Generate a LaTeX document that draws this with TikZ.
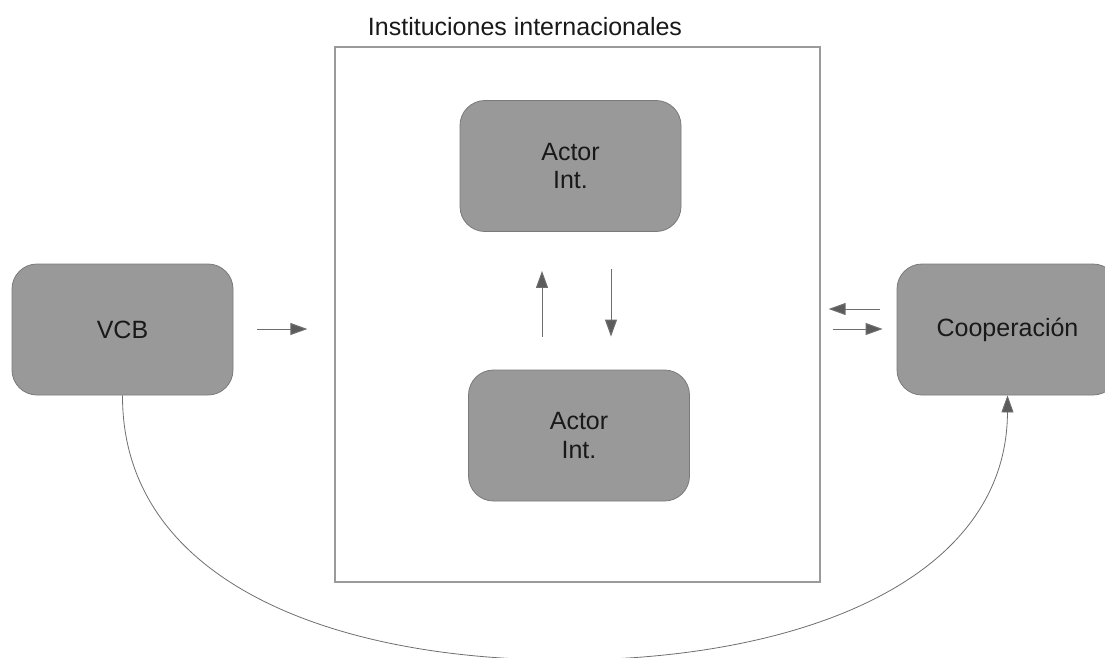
\documentclass[tikz,border=0pt]{standalone}
\usepackage{fontspec}
\setmainfont{Liberation Sans}
\usetikzlibrary{arrows.meta}
\definecolor{boxfill}{HTML}{999999}
\definecolor{boxline}{HTML}{7A7A7A}
\definecolor{frameline}{HTML}{9A9A9A}
\definecolor{arrline}{HTML}{6E6E6E}
\definecolor{arrhead}{HTML}{5C5C5C}
\tikzset{
  actorbox/.style={draw=boxline, fill=boxfill, line width=0.8pt, rounded corners=25pt,
    minimum width=221pt, minimum height=131pt, inner sep=0pt, align=center,
    font=\fontsize{25}{28.5}\selectfont, text=black!90},
  framebox/.style={draw=frameline, line width=1.3pt, minimum width=485pt, minimum height=535pt, inner sep=0pt},
  arr/.style={draw=arrline, line width=1pt, -{Triangle[length=17pt,width=12pt,fill=arrhead]}},
  curvearr/.style={draw=arrline, line width=0.8pt, -{Triangle[length=17pt,width=12pt,fill=arrhead]}},
  titletext/.style={font=\fontsize{25}{28.5}\selectfont, text=black!90, inner sep=0pt}
}
\begin{document}
\begin{tikzpicture}[x=1pt,y=-1pt]
\useasboundingbox (0,0) rectangle (1105,657);
\clip (0,0) rectangle (1105,657);
\node[framebox] (inst) at (577.5,314.5) {};
\node[titletext] (title) at (525,27) {Instituciones internacionales};
\node[actorbox] (a1) at (570.5,166) {Actor\\Int.};
\node[actorbox] (a2) at (579,435.5) {Actor\\Int.};
\node[actorbox] (vcb) at (122.5,329.5) {VCB};
\node[actorbox] (coop) at (1007.5,329.5) {Cooperación};
\coordinate (ux) at (542,0);
\coordinate (dx) at (611,0);
\coordinate (ly) at (0,309);
\coordinate (ry) at (0,329);
% VCB -> institutions
\draw[arr, shorten <=24pt, shorten >=27pt] (vcb.east |- ry) -- (inst.west |- ry);
% between actors
\draw[arr, shorten <=33pt, shorten >=39pt] (a2.north -| ux) -- (a1.south -| ux);
\draw[arr, shorten <=37pt, shorten >=33pt] (a1.south -| dx) -- (a2.north -| dx);
% institutions <-> cooperation
\draw[arr, shorten <=17pt, shorten >=8pt] (coop.west |- ly) -- (inst.east |- ly);
\draw[arr, shorten <=12pt, shorten >=14pt] (inst.east |- ry) -- (coop.west |- ry);
% curve VCB -> Cooperacion
\coordinate (cb) at (565,660);
\draw[curvearr] (vcb.south) .. controls (122,580) and (330,660) .. (cb)
  .. controls (800,660) and (1007,580) .. (coop.south);
\end{tikzpicture}
\end{document}
